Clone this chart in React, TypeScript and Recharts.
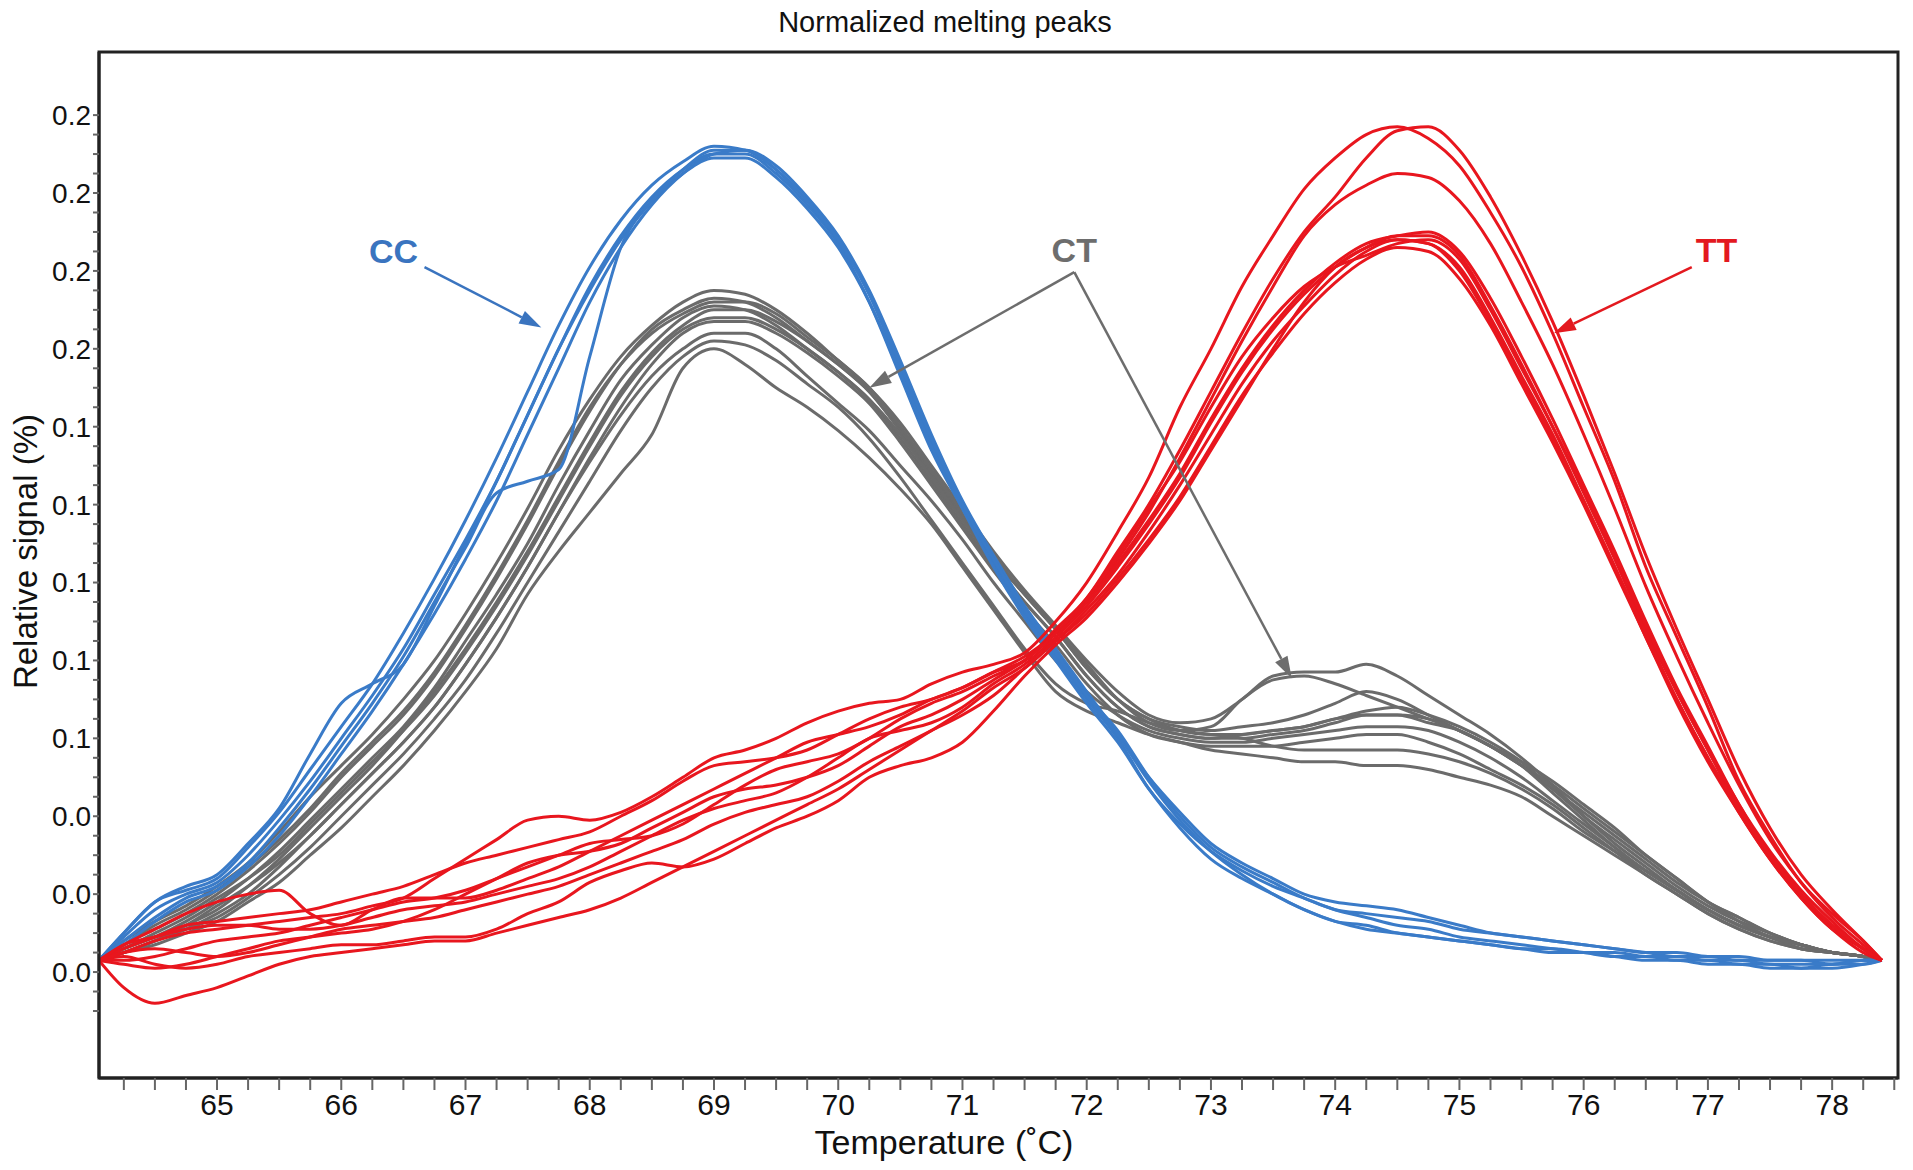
import React from 'react';
import { LineChart, Line, XAxis, YAxis, ReferenceArea, ReferenceLine, ReferenceDot } from 'recharts';

const FONT = '"Liberation Sans", Arial, sans-serif';
const BLUE = '#3a7bc8';
const GRAY = '#6b6b6b';
const RED = '#e8161e';

// temperature grid (°C)
const temps = [
  64.05, 64.25, 64.5, 64.75, 65, 65.25, 65.5, 65.75, 66, 66.25,
  66.5, 66.75, 67, 67.25, 67.5, 67.75, 68, 68.25, 68.5, 68.75,
  69, 69.25, 69.5, 69.75, 70, 70.25, 70.5, 70.75, 71, 71.25,
  71.5, 71.75, 72, 72.25, 72.5, 72.75, 73, 73.25, 73.5, 73.75,
  74, 74.25, 74.5, 74.75, 75, 75.25, 75.5, 75.75, 76, 76.25,
  76.5, 76.75, 77, 77.25, 77.5, 77.75, 78, 78.25, 78.4,
];

// CC genotype (blue)
const cc1 = [
  0.003, 0.009, 0.016, 0.020, 0.023, 0.030, 0.039, 0.049, 0.060, 0.071,
  0.083, 0.097, 0.111, 0.126, 0.143, 0.160, 0.176, 0.189, 0.199, 0.206,
  0.210, 0.210, 0.205, 0.197, 0.187, 0.172, 0.153, 0.134, 0.119, 0.105,
  0.092, 0.081, 0.070, 0.060, 0.047, 0.038, 0.031, 0.026, 0.022, 0.019,
  0.016, 0.015, 0.014, 0.013, 0.011, 0.010, 0.009, 0.008, 0.007, 0.006,
  0.005, 0.004, 0.004, 0.003, 0.003, 0.003, 0.002, 0.003, 0.003,
];
const cc2 = [
  0.003, 0.007, 0.013, 0.018, 0.021, 0.027, 0.035, 0.045, 0.056, 0.067,
  0.079, 0.092, 0.106, 0.121, 0.138, 0.155, 0.172, 0.186, 0.197, 0.205,
  0.210, 0.211, 0.207, 0.199, 0.189, 0.175, 0.157, 0.138, 0.121, 0.107,
  0.094, 0.083, 0.072, 0.061, 0.049, 0.039, 0.031, 0.025, 0.020, 0.016,
  0.013, 0.011, 0.010, 0.009, 0.008, 0.007, 0.006, 0.006, 0.005, 0.004,
  0.004, 0.003, 0.003, 0.002, 0.002, 0.001, 0.001, 0.002, 0.003,
];
const cc3 = [
  0.003, 0.010, 0.018, 0.021, 0.024, 0.032, 0.041, 0.052, 0.063, 0.074,
  0.087, 0.101, 0.116, 0.132, 0.149, 0.166, 0.181, 0.193, 0.202, 0.208,
  0.212, 0.211, 0.206, 0.198, 0.188, 0.174, 0.155, 0.136, 0.120, 0.106,
  0.093, 0.082, 0.071, 0.061, 0.050, 0.041, 0.033, 0.028, 0.024, 0.020,
  0.018, 0.017, 0.016, 0.014, 0.012, 0.010, 0.009, 0.008, 0.007, 0.006,
  0.005, 0.005, 0.004, 0.004, 0.003, 0.003, 0.003, 0.003, 0.003,
];
const cc4 = [
  0.003, 0.010, 0.018, 0.022, 0.025, 0.033, 0.042, 0.056, 0.069, 0.074,
  0.079, 0.094, 0.110, 0.126, 0.143, 0.160, 0.175, 0.188, 0.198, 0.205,
  0.209, 0.209, 0.204, 0.196, 0.186, 0.172, 0.154, 0.135, 0.119, 0.104,
  0.091, 0.080, 0.069, 0.059, 0.047, 0.037, 0.029, 0.024, 0.020, 0.016,
  0.013, 0.012, 0.010, 0.009, 0.008, 0.007, 0.006, 0.005, 0.005, 0.004,
  0.003, 0.003, 0.002, 0.002, 0.001, 0.001, 0.002, 0.002, 0.003,
];
const cc5 = [
  0.003, 0.008, 0.014, 0.019, 0.022, 0.028, 0.037, 0.047, 0.058, 0.069,
  0.081, 0.095, 0.109, 0.123, 0.126, 0.129, 0.158, 0.186, 0.198, 0.206,
  0.211, 0.211, 0.206, 0.198, 0.188, 0.174, 0.156, 0.137, 0.120, 0.106,
  0.093, 0.082, 0.071, 0.062, 0.050, 0.040, 0.032, 0.027, 0.023, 0.019,
  0.016, 0.014, 0.012, 0.011, 0.009, 0.008, 0.007, 0.006, 0.005, 0.005,
  0.004, 0.004, 0.003, 0.003, 0.002, 0.002, 0.002, 0.003, 0.003,
];

// CT genotype (grey)
const ct1 = [
  0.003, 0.008, 0.013, 0.017, 0.022, 0.028, 0.036, 0.045, 0.053, 0.061,
  0.070, 0.080, 0.092, 0.105, 0.119, 0.134, 0.147, 0.158, 0.166, 0.172,
  0.175, 0.174, 0.170, 0.164, 0.157, 0.150, 0.141, 0.130, 0.119, 0.108,
  0.098, 0.089, 0.080, 0.072, 0.066, 0.064, 0.065, 0.070, 0.076, 0.077,
  0.077, 0.079, 0.076, 0.071, 0.066, 0.061, 0.055, 0.048, 0.040, 0.034,
  0.028, 0.022, 0.017, 0.013, 0.010, 0.007, 0.005, 0.004, 0.003,
];
const ct2 = [
  0.003, 0.007, 0.011, 0.015, 0.020, 0.026, 0.033, 0.041, 0.050, 0.058,
  0.066, 0.076, 0.088, 0.101, 0.115, 0.130, 0.144, 0.156, 0.165, 0.170,
  0.173, 0.172, 0.168, 0.162, 0.156, 0.149, 0.139, 0.128, 0.117, 0.106,
  0.097, 0.088, 0.078, 0.070, 0.065, 0.063, 0.062, 0.063, 0.064, 0.066,
  0.069, 0.072, 0.070, 0.066, 0.062, 0.058, 0.053, 0.047, 0.041, 0.035,
  0.029, 0.023, 0.018, 0.014, 0.010, 0.007, 0.005, 0.004, 0.003,
];
const ct3 = [
  0.003, 0.006, 0.009, 0.013, 0.018, 0.024, 0.031, 0.039, 0.047, 0.055,
  0.063, 0.073, 0.085, 0.097, 0.110, 0.125, 0.139, 0.152, 0.161, 0.168,
  0.171, 0.170, 0.166, 0.160, 0.154, 0.147, 0.137, 0.126, 0.115, 0.104,
  0.095, 0.086, 0.076, 0.068, 0.063, 0.061, 0.060, 0.061, 0.062, 0.063,
  0.065, 0.066, 0.066, 0.064, 0.062, 0.058, 0.053, 0.048, 0.042, 0.036,
  0.030, 0.024, 0.018, 0.014, 0.010, 0.007, 0.005, 0.004, 0.003,
];
const ct4 = [
  0.003, 0.005, 0.008, 0.012, 0.016, 0.022, 0.029, 0.037, 0.045, 0.053,
  0.062, 0.072, 0.083, 0.095, 0.108, 0.122, 0.136, 0.149, 0.159, 0.166,
  0.170, 0.170, 0.167, 0.162, 0.156, 0.149, 0.139, 0.128, 0.117, 0.106,
  0.097, 0.088, 0.078, 0.070, 0.065, 0.062, 0.061, 0.061, 0.062, 0.063,
  0.065, 0.067, 0.068, 0.066, 0.063, 0.059, 0.054, 0.047, 0.040, 0.033,
  0.027, 0.021, 0.016, 0.012, 0.009, 0.007, 0.005, 0.004, 0.003,
];
const ct5 = [
  0.003, 0.006, 0.010, 0.014, 0.019, 0.024, 0.030, 0.038, 0.046, 0.054,
  0.062, 0.071, 0.082, 0.094, 0.107, 0.121, 0.135, 0.148, 0.158, 0.165,
  0.168, 0.168, 0.165, 0.160, 0.154, 0.147, 0.138, 0.127, 0.116, 0.105,
  0.095, 0.086, 0.076, 0.068, 0.063, 0.061, 0.060, 0.060, 0.061, 0.062,
  0.064, 0.066, 0.066, 0.065, 0.062, 0.058, 0.053, 0.046, 0.039, 0.032,
  0.026, 0.021, 0.016, 0.012, 0.009, 0.007, 0.005, 0.004, 0.003,
];
const ct6 = [
  0.003, 0.005, 0.008, 0.011, 0.015, 0.020, 0.027, 0.035, 0.043, 0.051,
  0.059, 0.068, 0.079, 0.091, 0.104, 0.118, 0.132, 0.145, 0.156, 0.164,
  0.167, 0.167, 0.164, 0.159, 0.153, 0.146, 0.136, 0.125, 0.114, 0.103,
  0.093, 0.084, 0.074, 0.066, 0.061, 0.059, 0.058, 0.058, 0.058, 0.059,
  0.060, 0.061, 0.061, 0.059, 0.056, 0.052, 0.048, 0.043, 0.037, 0.031,
  0.025, 0.020, 0.015, 0.011, 0.008, 0.006, 0.005, 0.004, 0.003,
];
const ct7 = [
  0.003, 0.005, 0.008, 0.011, 0.014, 0.019, 0.025, 0.032, 0.040, 0.048,
  0.056, 0.065, 0.075, 0.087, 0.100, 0.113, 0.126, 0.139, 0.150, 0.158,
  0.162, 0.161, 0.157, 0.151, 0.145, 0.137, 0.127, 0.116, 0.105, 0.094,
  0.083, 0.074, 0.069, 0.067, 0.064, 0.062, 0.061, 0.060, 0.058, 0.057,
  0.057, 0.057, 0.057, 0.056, 0.054, 0.051, 0.047, 0.042, 0.036, 0.031,
  0.026, 0.021, 0.016, 0.012, 0.009, 0.006, 0.005, 0.004, 0.003,
];
const ct8 = [
  0.003, 0.005, 0.007, 0.010, 0.013, 0.018, 0.023, 0.030, 0.037, 0.045,
  0.053, 0.062, 0.072, 0.083, 0.097, 0.108, 0.118, 0.128, 0.138, 0.155,
  0.160, 0.156, 0.150, 0.145, 0.139, 0.132, 0.124, 0.115, 0.104, 0.093,
  0.082, 0.072, 0.067, 0.064, 0.061, 0.059, 0.057, 0.056, 0.055, 0.054,
  0.054, 0.053, 0.053, 0.052, 0.050, 0.048, 0.045, 0.040, 0.035, 0.030,
  0.025, 0.020, 0.015, 0.011, 0.008, 0.006, 0.005, 0.004, 0.003,
];
const ct9 = [
  0.003, 0.006, 0.009, 0.012, 0.017, 0.022, 0.028, 0.035, 0.043, 0.051,
  0.059, 0.068, 0.079, 0.091, 0.104, 0.118, 0.131, 0.143, 0.153, 0.160,
  0.164, 0.164, 0.160, 0.153, 0.146, 0.139, 0.130, 0.121, 0.111, 0.100,
  0.090, 0.080, 0.072, 0.066, 0.062, 0.060, 0.059, 0.059, 0.060, 0.061,
  0.062, 0.063, 0.063, 0.062, 0.059, 0.055, 0.050, 0.044, 0.038, 0.032,
  0.026, 0.021, 0.016, 0.012, 0.009, 0.006, 0.005, 0.004, 0.003,
];
const ct10 = [
  0.003, 0.007, 0.012, 0.016, 0.021, 0.027, 0.034, 0.042, 0.051, 0.059,
  0.067, 0.077, 0.089, 0.102, 0.116, 0.131, 0.145, 0.156, 0.164, 0.169,
  0.172, 0.172, 0.169, 0.163, 0.157, 0.150, 0.140, 0.129, 0.118, 0.107,
  0.097, 0.088, 0.079, 0.070, 0.064, 0.062, 0.063, 0.070, 0.075, 0.076,
  0.074, 0.071, 0.068, 0.065, 0.062, 0.058, 0.054, 0.049, 0.043, 0.037,
  0.030, 0.024, 0.018, 0.013, 0.009, 0.007, 0.005, 0.004, 0.003,
];

// TT genotype (red)
const tt1 = [
  0.003, 0.005, 0.008, 0.010, 0.011, 0.012, 0.013, 0.014, 0.015, 0.017,
  0.019, 0.024, 0.029, 0.034, 0.039, 0.040, 0.039, 0.041, 0.045, 0.050,
  0.055, 0.057, 0.060, 0.064, 0.067, 0.069, 0.070, 0.074, 0.077, 0.079,
  0.082, 0.090, 0.100, 0.113, 0.127, 0.145, 0.160, 0.176, 0.189, 0.201,
  0.209, 0.215, 0.217, 0.214, 0.207, 0.195, 0.181, 0.164, 0.145, 0.126,
  0.104, 0.086, 0.068, 0.049, 0.035, 0.023, 0.015, 0.008, 0.003,
];
const tt2 = [
  0.003, 0.007, 0.011, 0.015, 0.018, 0.020, 0.021, 0.015, 0.012, 0.016,
  0.019, 0.019, 0.019, 0.021, 0.024, 0.027, 0.031, 0.035, 0.039, 0.043,
  0.047, 0.051, 0.055, 0.059, 0.061, 0.063, 0.066, 0.070, 0.073, 0.077,
  0.080, 0.088, 0.096, 0.108, 0.120, 0.134, 0.149, 0.164, 0.178, 0.190,
  0.199, 0.209, 0.216, 0.217, 0.211, 0.199, 0.184, 0.167, 0.148, 0.128,
  0.107, 0.088, 0.070, 0.052, 0.037, 0.025, 0.016, 0.008, 0.003,
];
const tt3 = [
  0.003, 0.006, 0.009, 0.012, 0.013, 0.014, 0.015, 0.016, 0.018, 0.020,
  0.022, 0.025, 0.028, 0.030, 0.032, 0.034, 0.036, 0.040, 0.044, 0.049,
  0.053, 0.054, 0.055, 0.057, 0.061, 0.065, 0.068, 0.070, 0.073, 0.077,
  0.081, 0.087, 0.095, 0.106, 0.118, 0.132, 0.147, 0.162, 0.176, 0.189,
  0.197, 0.202, 0.205, 0.204, 0.198, 0.187, 0.172, 0.156, 0.138, 0.119,
  0.099, 0.081, 0.064, 0.048, 0.034, 0.023, 0.014, 0.007, 0.003,
];
const tt4 = [
  0.003, 0.002, 0.001, 0.002, 0.004, 0.006, 0.008, 0.009, 0.010, 0.011,
  0.013, 0.016, 0.020, 0.024, 0.028, 0.030, 0.031, 0.033, 0.037, 0.041,
  0.045, 0.047, 0.048, 0.050, 0.053, 0.058, 0.063, 0.066, 0.070, 0.075,
  0.080, 0.087, 0.095, 0.105, 0.116, 0.128, 0.142, 0.155, 0.166, 0.175,
  0.182, 0.187, 0.189, 0.190, 0.185, 0.173, 0.158, 0.142, 0.125, 0.108,
  0.090, 0.073, 0.058, 0.043, 0.031, 0.021, 0.013, 0.006, 0.003,
];
const tt5 = [
  0.003, -0.004, -0.008, -0.006, -0.004, -0.001, 0.002, 0.004, 0.005, 0.006,
  0.007, 0.008, 0.008, 0.010, 0.012, 0.014, 0.016, 0.019, 0.023, 0.027,
  0.031, 0.035, 0.039, 0.043, 0.047, 0.052, 0.057, 0.062, 0.067, 0.073,
  0.078, 0.085, 0.092, 0.101, 0.111, 0.122, 0.135, 0.148, 0.159, 0.169,
  0.177, 0.183, 0.186, 0.185, 0.178, 0.166, 0.151, 0.136, 0.120, 0.103,
  0.086, 0.069, 0.054, 0.041, 0.029, 0.019, 0.011, 0.005, 0.003,
];
const tt6 = [
  0.003, 0.004, 0.002, 0.001, 0.002, 0.004, 0.005, 0.006, 0.007, 0.007,
  0.008, 0.009, 0.009, 0.011, 0.015, 0.018, 0.023, 0.026, 0.028, 0.027,
  0.029, 0.033, 0.037, 0.040, 0.044, 0.050, 0.053, 0.055, 0.059, 0.067,
  0.076, 0.084, 0.091, 0.100, 0.110, 0.121, 0.134, 0.147, 0.160, 0.172,
  0.181, 0.186, 0.188, 0.187, 0.181, 0.168, 0.153, 0.138, 0.121, 0.104,
  0.086, 0.070, 0.055, 0.041, 0.029, 0.019, 0.011, 0.006, 0.003,
];
const tt7 = [
  0.003, 0.007, 0.009, 0.011, 0.012, 0.012, 0.011, 0.011, 0.012, 0.014,
  0.016, 0.017, 0.018, 0.020, 0.022, 0.024, 0.027, 0.031, 0.035, 0.039,
  0.042, 0.044, 0.046, 0.050, 0.055, 0.060, 0.062, 0.064, 0.068, 0.074,
  0.079, 0.086, 0.094, 0.104, 0.115, 0.127, 0.141, 0.154, 0.165, 0.174,
  0.181, 0.186, 0.189, 0.189, 0.184, 0.171, 0.156, 0.140, 0.123, 0.106,
  0.088, 0.072, 0.057, 0.043, 0.030, 0.020, 0.012, 0.006, 0.003,
];
const tt8 = [
  0.003, 0.003, 0.004, 0.006, 0.008, 0.009, 0.010, 0.012, 0.014, 0.016,
  0.018, 0.019, 0.021, 0.024, 0.027, 0.030, 0.033, 0.034, 0.035, 0.038,
  0.043, 0.048, 0.052, 0.054, 0.056, 0.060, 0.065, 0.069, 0.072, 0.076,
  0.080, 0.087, 0.096, 0.107, 0.119, 0.131, 0.145, 0.158, 0.168, 0.176,
  0.181, 0.184, 0.187, 0.188, 0.183, 0.170, 0.155, 0.140, 0.124, 0.107,
  0.089, 0.072, 0.057, 0.042, 0.030, 0.020, 0.012, 0.006, 0.003,
];
const tt9 = [
  0.003, 0.005, 0.006, 0.005, 0.004, 0.005, 0.007, 0.009, 0.011, 0.012,
  0.013, 0.014, 0.016, 0.018, 0.020, 0.022, 0.025, 0.028, 0.031, 0.034,
  0.038, 0.041, 0.043, 0.045, 0.049, 0.054, 0.058, 0.062, 0.066, 0.071,
  0.078, 0.085, 0.093, 0.102, 0.113, 0.125, 0.138, 0.151, 0.162, 0.171,
  0.179, 0.185, 0.188, 0.187, 0.180, 0.167, 0.152, 0.137, 0.121, 0.104,
  0.087, 0.070, 0.055, 0.042, 0.030, 0.020, 0.012, 0.006, 0.003,
];

// axis ticks: minor every 0.25 °C / 0.005, labels only on majors
const xTicks = [
  64.25, 64.5, 64.75, 65, 65.25, 65.5, 65.75, 66, 66.25, 66.5, 66.75, 67,
  67.25, 67.5, 67.75, 68, 68.25, 68.5, 68.75, 69, 69.25, 69.5, 69.75, 70,
  70.25, 70.5, 70.75, 71, 71.25, 71.5, 71.75, 72, 72.25, 72.5, 72.75, 73,
  73.25, 73.5, 73.75, 74, 74.25, 74.5, 74.75, 75, 75.25, 75.5, 75.75, 76,
  76.25, 76.5, 76.75, 77, 77.25, 77.5, 77.75, 78, 78.25, 78.5,
];
const xLabels = [65, 66, 67, 68, 69, 70, 71, 72, 73, 74, 75, 76, 77, 78];

const yTicks = [
  -0.01, -0.005, 0, 0.005, 0.01, 0.015, 0.02, 0.025, 0.03, 0.035, 0.04, 0.045,
  0.05, 0.055, 0.06, 0.065, 0.07, 0.075, 0.08, 0.085, 0.09, 0.095, 0.1, 0.105,
  0.11, 0.115, 0.12, 0.125, 0.13, 0.135, 0.14, 0.145, 0.15, 0.155, 0.16, 0.165,
  0.17, 0.175, 0.18, 0.185, 0.19, 0.195, 0.2, 0.205, 0.21, 0.215, 0.22,
];
const yMajor = [0, 0.02, 0.04, 0.06, 0.08, 0.1, 0.12, 0.14, 0.16, 0.18, 0.2, 0.22];
const yLabels = ['0.0', '0.0', '0.0', '0.1', '0.1', '0.1', '0.1', '0.1', '0.2', '0.2', '0.2', '0.2'];

const xDomain = [64.05, 78.53];
const yDomain = [-0.0272, 0.2362];

const series = [
  ...[ct1, ct2, ct3, ct4, ct5, ct6, ct7, ct8, ct9, ct10].map((v, i) => ({ key: `ct${i + 1}`, values: v, color: GRAY })),
  ...[cc1, cc2, cc3, cc4, cc5].map((v, i) => ({ key: `cc${i + 1}`, values: v, color: BLUE })),
  ...[tt1, tt2, tt3, tt4, tt5, tt6, tt7, tt8, tt9].map((v, i) => ({ key: `tt${i + 1}`, values: v, color: RED })),
];

const rows = temps.map((t, i) => {
  const row: Record<string, number> = { t };
  series.forEach((s) => { row[s.key] = s.values[i]; });
  return row;
});

// annotation labels and arrows, in data coordinates
const labels = [
  { text: 'CC', x: 66.42, y: 0.1851, color: '#3a74bf' },
  { text: 'CT', x: 71.9, y: 0.1854, color: '#6d6d6d' },
  { text: 'TT', x: 77.07, y: 0.1854, color: '#e3191f' },
];
const arrows = [
  { from: { x: 66.67, y: 0.181 }, to: { x: 67.61, y: 0.1655 }, color: '#3a74bf' },
  { from: { x: 71.9, y: 0.1797 }, to: { x: 70.25, y: 0.150 }, color: '#6d6d6d' },
  { from: { x: 71.9, y: 0.1797 }, to: { x: 73.65, y: 0.0754 }, color: '#6d6d6d' },
  { from: { x: 76.87, y: 0.181 }, to: { x: 75.76, y: 0.164 }, color: '#e3191f' },
];

const arrowShape = (color: string) => (p: any) => {
  const x1 = Number(p.x1), y1 = Number(p.y1), x2 = Number(p.x2), y2 = Number(p.y2);
  const a = Math.atan2(y2 - y1, x2 - x1);
  const len = 22;
  const half = 7;
  const bx = x2 - len * Math.cos(a);
  const by = y2 - len * Math.sin(a);
  const pts = [
    [x2, y2],
    [bx + half * Math.sin(a), by - half * Math.cos(a)],
    [bx - half * Math.sin(a), by + half * Math.cos(a)],
  ].map((q) => q.join(',')).join(' ');
  return (
    <g>
      <line x1={x1} y1={y1} x2={bx} y2={by} stroke={color} strokeWidth={2.5} />
      <polygon points={pts} fill={color} />
    </g>
  );
};

const xFmt = (v: number) => (xLabels.includes(v) ? String(v) : '');
const yFmt = (v: number) => {
  const i = yMajor.findIndex((m) => Math.abs(m - v) < 1e-9);
  return i >= 0 ? yLabels[i] : '';
};

export default function App() {
  return (
    <div style={{ position: 'relative', width: 1897, height: 1160, fontFamily: FONT, color: '#111' }}>
      <div style={{ position: 'absolute', left: 537, top: 0, width: 800, textAlign: 'center', fontSize: 29, lineHeight: '29px' }}>
        Normalized melting peaks
      </div>
      <LineChart width={1897} height={1160} data={rows} margin={{ top: 44, right: 7, bottom: 30, left: 0 }}>
        <XAxis
          dataKey="t"
          type="number"
          domain={xDomain}
          allowDataOverflow
          ticks={xTicks}
          interval={0}
          tickFormatter={xFmt}
          tickSize={12}
          tickMargin={4}
          height={60}
          axisLine={{ stroke: '#222', strokeWidth: 3 }}
          tickLine={{ stroke: '#666', strokeWidth: 2 }}
          tick={{ fontSize: 30, fill: '#111', fontFamily: FONT }}
        />
        <YAxis
          type="number"
          domain={yDomain}
          allowDataOverflow
          ticks={yTicks}
          interval={0}
          tickFormatter={yFmt}
          tickSize={6}
          tickMargin={2}
          width={91}
          axisLine={{ stroke: '#222', strokeWidth: 3 }}
          tickLine={{ stroke: '#666', strokeWidth: 2 }}
          tick={{ fontSize: 28, fill: '#111', fontFamily: FONT }}
        />
        <ReferenceArea
          x1={xDomain[0]}
          x2={xDomain[1]}
          y1={yDomain[0]}
          y2={yDomain[1]}
          fill="none"
          fillOpacity={0}
          stroke="#222"
          strokeWidth={3}
          ifOverflow="visible"
        />
        {series.map((s) => (
          <Line
            key={s.key}
            dataKey={s.key}
            type="monotone"
            stroke={s.color}
            strokeWidth={3}
            dot={false}
            activeDot={false}
            isAnimationActive={false}
          />
        ))}
        {arrows.map((a, i) => (
          <ReferenceLine
            key={`arrow-${i}`}
            segment={[a.from, a.to]}
            stroke={a.color}
            shape={arrowShape(a.color)}
          />
        ))}
        {labels.map((l) => (
          <ReferenceDot
            key={l.text}
            x={l.x}
            y={l.y}
            r={1}
            shape={(p: any) => (
              <text
                x={p.cx}
                y={p.cy}
                dy="0.36em"
                textAnchor="middle"
                fontFamily={FONT}
                fontWeight="bold"
                fontSize={34}
                fill={l.color}
              >
                {l.text}
              </text>
            )}
          />
        ))}
      </LineChart>
      <div style={{ position: 'absolute', left: 636, top: 1117, width: 600, textAlign: 'center', fontSize: 34, lineHeight: '34px' }}>
        Temperature (˚C)
      </div>
      <div
        style={{
          position: 'absolute',
          left: -183,
          top: 527,
          width: 400,
          height: 33,
          textAlign: 'center',
          fontSize: 33,
          lineHeight: '33px',
          transform: 'rotate(-90deg)',
        }}
      >
        Relative signal (%)
      </div>
    </div>
  );
}
